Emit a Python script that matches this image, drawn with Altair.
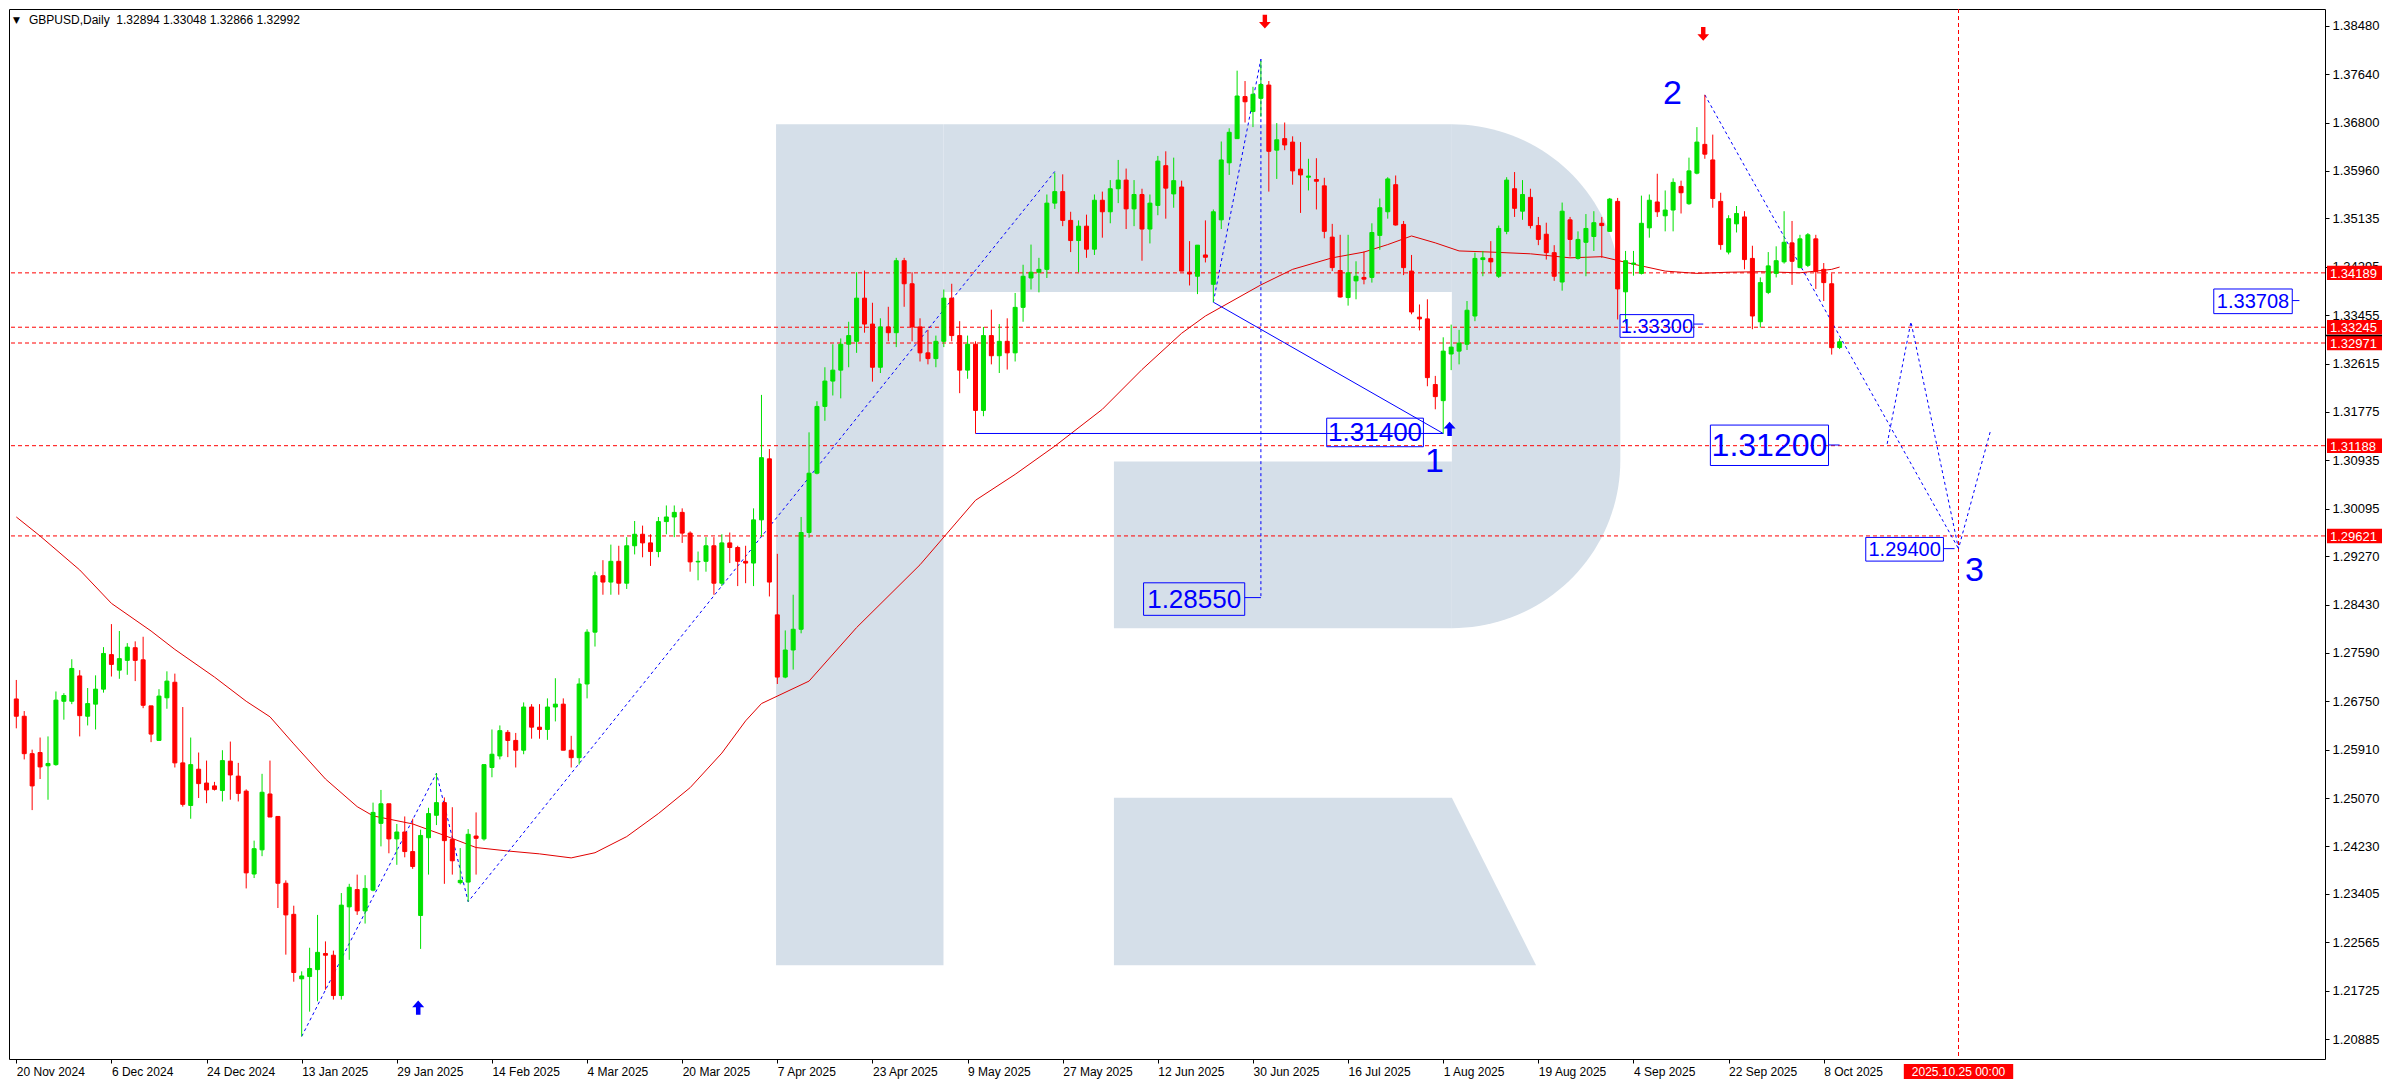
import altair as alt
import numpy as np
import pandas as pd

W, H = 2316, 1050
X_DOM = [-0.29, 290.6]
Y_DOM = [1.20538, 1.38771]
FONT = "Liberation Sans"
BLUE = "#0000ff"
RED = "#ff0000"
GREEN = "#00e000"
WM = "#d5dfe9"

# ---------------- candles (bar 0 = 20 Nov 2024, one bar per trading day) ----------------
opens = [
    1.2679, 1.2649, 1.2584, 1.2586, 1.2563, 1.2565, 1.2675, 1.2675, 1.2719, 1.2649,
    1.2670, 1.2696, 1.2756, 1.2729, 1.2746, 1.2768, 1.2747, 1.2667, 1.2607, 1.2681,
    1.2708, 1.2568, 1.2494, 1.2557, 1.2533, 1.2528, 1.2520, 1.2571, 1.2545, 1.2519,
    1.2375, 1.2417, 1.2514, 1.2475, 1.2359, 1.2305, 1.2193, 1.2197, 1.2209, 1.2237,
    1.2234, 1.2164, 1.2318, 1.2348, 1.2311, 1.2347, 1.2463, 1.2497, 1.2436, 1.2448,
    1.2414, 1.2303, 1.2438, 1.2477, 1.2499, 1.2435, 1.2360, 1.2361, 1.2441, 1.2436,
    1.2560, 1.2580, 1.2621, 1.2607, 1.2590, 1.2665, 1.2630, 1.2626, 1.2665, 1.2670,
    1.2590, 1.2577, 1.2705, 1.2795, 1.2893, 1.2882, 1.2918, 1.2880, 1.2945, 1.2965,
    1.2950, 1.2935, 1.2987, 1.2995, 1.3003, 1.2967, 1.2917, 1.2918, 1.2945, 1.2880,
    1.2950, 1.2942, 1.2918, 1.2915, 1.2990, 1.3096, 1.2825, 1.2717, 1.2764, 1.2800,
    1.2968, 1.3071, 1.3187, 1.3231, 1.3250, 1.3295, 1.3300, 1.3375, 1.3330, 1.3255,
    1.3325, 1.3315, 1.3440, 1.3400, 1.3325, 1.3280, 1.3270, 1.3300, 1.3375, 1.3310,
    1.3250, 1.3295, 1.3180, 1.3310, 1.3275, 1.3300, 1.3280, 1.3359, 1.3410, 1.3420,
    1.3425, 1.3540, 1.3560, 1.3510, 1.3475, 1.3500, 1.3460, 1.3545, 1.3525, 1.3565,
    1.3580, 1.3530, 1.3555, 1.3495, 1.3536, 1.3605, 1.3556, 1.3568, 1.3420, 1.3413,
    1.3450, 1.3399, 1.3511, 1.3610, 1.3652, 1.3725, 1.3699, 1.3722, 1.3745, 1.3632,
    1.3652, 1.3646, 1.3599, 1.3585, 1.3581, 1.3570, 1.3481, 1.3423, 1.3376, 1.3405,
    1.3411, 1.3411, 1.3484, 1.3525, 1.3572, 1.3503, 1.3422, 1.3342, 1.3339, 1.3225,
    1.3197, 1.3278, 1.3283, 1.3295, 1.3344, 1.3442, 1.3444, 1.3413, 1.3491, 1.3565,
    1.3526, 1.3550, 1.3501, 1.3486, 1.3454, 1.3403, 1.3511, 1.3444, 1.3472, 1.3482,
    1.3505, 1.3491, 1.3543, 1.3386, 1.3434, 1.3418, 1.3497, 1.3542, 1.3518, 1.3528,
    1.3569, 1.3539, 1.3592, 1.3642, 1.3615, 1.3543, 1.3455, 1.3504, 1.3516, 1.3444,
    1.3334, 1.3385, 1.3418, 1.3438, 1.3471, 1.3428, 1.3432, 1.3478, 1.3425, 1.3400,
    1.32894,
]
highs = [
    1.2712, 1.2658, 1.2591, 1.2612, 1.2614, 1.2692, 1.2689, 1.2748, 1.2729, 1.2698,
    1.2720, 1.2769, 1.2809, 1.2797, 1.2776, 1.2779, 1.2787, 1.2667, 1.2696, 1.2727,
    1.2723, 1.2665, 1.2612, 1.2586, 1.2572, 1.2535, 1.2590, 1.2605, 1.2568, 1.2522,
    1.2433, 1.2549, 1.2572, 1.2475, 1.2364, 1.2320, 1.2206, 1.2247, 1.2304, 1.2258,
    1.2242, 1.2342, 1.2358, 1.2374, 1.2373, 1.2499, 1.2521, 1.2497, 1.2462, 1.2475,
    1.2471, 1.2452, 1.2490, 1.2550, 1.2508, 1.2491, 1.2420, 1.2453, 1.2482, 1.2565,
    1.2626, 1.2633, 1.2625, 1.2620, 1.2673, 1.2670, 1.2670, 1.2680, 1.2715, 1.2680,
    1.2615, 1.2715, 1.2800, 1.2900, 1.2920, 1.2947, 1.2945, 1.2960, 1.2988, 1.2980,
    1.2965, 1.2995, 1.3015, 1.3015, 1.3010, 1.2970, 1.2935, 1.2960, 1.2960, 1.2965,
    1.2968, 1.2945, 1.2945, 1.3010, 1.3207, 1.3113, 1.2931, 1.2798, 1.2860, 1.2995,
    1.3142, 1.3196, 1.3255, 1.3295, 1.3305, 1.3334, 1.3420, 1.3423, 1.3367, 1.3340,
    1.3360, 1.3445, 1.3445, 1.3420, 1.3340, 1.3320, 1.3310, 1.3390, 1.3400, 1.3335,
    1.3310, 1.3300, 1.3325, 1.3355, 1.3330, 1.3340, 1.3384, 1.3433, 1.3468, 1.3445,
    1.3555, 1.3593, 1.3590, 1.3525, 1.3510, 1.3520, 1.3555, 1.3560, 1.3580, 1.3615,
    1.3600, 1.3580, 1.3565, 1.3555, 1.3622, 1.3630, 1.3619, 1.3579, 1.3474, 1.3467,
    1.3510, 1.3529, 1.3647, 1.3670, 1.3770, 1.3752, 1.3742, 1.3787, 1.3752, 1.3679,
    1.3680, 1.3656, 1.3646, 1.3617, 1.3618, 1.3584, 1.3504, 1.3485, 1.3485, 1.3439,
    1.3456, 1.3505, 1.3548, 1.3585, 1.3588, 1.3509, 1.3450, 1.3364, 1.3373, 1.3240,
    1.3307, 1.3329, 1.3320, 1.3370, 1.3454, 1.3457, 1.3474, 1.3501, 1.3585, 1.3594,
    1.3580, 1.3565, 1.3516, 1.3506, 1.3467, 1.3541, 1.3516, 1.3491, 1.3521, 1.3526,
    1.3516, 1.3549, 1.3549, 1.3457, 1.3457, 1.3553, 1.3555, 1.3591, 1.3562, 1.3583,
    1.3579, 1.3619, 1.3672, 1.3728, 1.3659, 1.3558, 1.3519, 1.3535, 1.3526, 1.3466,
    1.3411, 1.3455, 1.3465, 1.3526, 1.3509, 1.3485, 1.3488, 1.3485, 1.3436, 1.3418,
    1.33048,
]
lows = [
    1.2628, 1.2574, 1.2486, 1.2540, 1.2504, 1.2563, 1.2643, 1.2670, 1.2614, 1.2633,
    1.2626, 1.2690, 1.2718, 1.2714, 1.2721, 1.2710, 1.2663, 1.2604, 1.2607, 1.2662,
    1.2560, 1.2492, 1.2471, 1.2507, 1.2498, 1.2520, 1.2501, 1.2504, 1.2501, 1.2350,
    1.2368, 1.2406, 1.2474, 1.2316, 1.2235, 1.2188, 1.2093, 1.2136, 1.2154, 1.2174,
    1.2157, 1.2157, 1.2226, 1.2304, 1.2289, 1.2345, 1.2423, 1.2411, 1.2391, 1.2404,
    1.2384, 1.2245, 1.2374, 1.2460, 1.2358, 1.2374, 1.2357, 1.2327, 1.2374, 1.2433,
    1.2543, 1.2574, 1.2578, 1.2560, 1.2583, 1.2610, 1.2610, 1.2608, 1.2640, 1.2590,
    1.2560, 1.2565, 1.2680, 1.2770, 1.2860, 1.2860, 1.2860, 1.2870, 1.2930, 1.2925,
    1.2910, 1.2925, 1.2965, 1.2960, 1.2950, 1.2900, 1.2885, 1.2900, 1.2860, 1.2875,
    1.2915, 1.2875, 1.2880, 1.2875, 1.2961, 1.2857, 1.2705, 1.2715, 1.2730, 1.2793,
    1.2959, 1.3069, 1.3162, 1.3206, 1.3201, 1.3255, 1.3280, 1.3315, 1.3230, 1.3245,
    1.3300, 1.3290, 1.3360, 1.3300, 1.3265, 1.3260, 1.3255, 1.3290, 1.3300, 1.3210,
    1.3235, 1.3140, 1.3170, 1.3260, 1.3245, 1.3251, 1.3265, 1.3334, 1.3390, 1.3385,
    1.3410, 1.3530, 1.3500, 1.3455, 1.3420, 1.3445, 1.3450, 1.3480, 1.3505, 1.3540,
    1.3495, 1.3500, 1.3440, 1.3470, 1.3519, 1.3513, 1.3532, 1.3422, 1.3397, 1.3382,
    1.3437, 1.3368, 1.3495, 1.3589, 1.3652, 1.3680, 1.3672, 1.3690, 1.3560, 1.3582,
    1.3632, 1.3572, 1.3523, 1.3562, 1.3529, 1.3479, 1.3422, 1.3376, 1.3362, 1.3373,
    1.3399, 1.3402, 1.3459, 1.3513, 1.3501, 1.3415, 1.3347, 1.3319, 1.3222, 1.3182,
    1.3140, 1.3250, 1.3260, 1.3285, 1.3335, 1.3413, 1.3418, 1.3410, 1.3486, 1.3516,
    1.3511, 1.3496, 1.3467, 1.3442, 1.3405, 1.3388, 1.3447, 1.3442, 1.3413, 1.3457,
    1.3445, 1.3490, 1.3338, 1.3331, 1.3414, 1.3416, 1.3480, 1.3516, 1.3491, 1.3491,
    1.3522, 1.3537, 1.3590, 1.3617, 1.3532, 1.3459, 1.3451, 1.3489, 1.3425, 1.3321,
    1.3324, 1.3382, 1.3411, 1.3435, 1.3398, 1.3427, 1.3429, 1.3391, 1.3370, 1.3277,
    1.32866,
]
closes = [
    1.2649, 1.2584, 1.2528, 1.2561, 1.2567, 1.2677, 1.2685, 1.2732, 1.2650, 1.2671,
    1.2696, 1.2758, 1.2739, 1.2749, 1.2769, 1.2746, 1.2668, 1.2618, 1.2684, 1.2710,
    1.2568, 1.2496, 1.2565, 1.2532, 1.2521, 1.2522, 1.2572, 1.2547, 1.2515, 1.2377,
    1.2419, 1.2517, 1.2474, 1.2359, 1.2304, 1.2204, 1.2198, 1.2211, 1.2239, 1.2234,
    1.2164, 1.2321, 1.2352, 1.2311, 1.2350, 1.2482, 1.2497, 1.2436, 1.2448, 1.2414,
    1.2388, 1.2442, 1.2480, 1.2499, 1.2433, 1.2398, 1.2364, 1.2444, 1.2437, 1.2565,
    1.2583, 1.2624, 1.2607, 1.2590, 1.2665, 1.2630, 1.2626, 1.2665, 1.2670, 1.2590,
    1.2577, 1.2705, 1.2795, 1.2893, 1.2882, 1.2918, 1.2880, 1.2945, 1.2965, 1.2950,
    1.2935, 1.2987, 1.2995, 1.3003, 1.2967, 1.2917, 1.2918, 1.2945, 1.2880, 1.2950,
    1.2942, 1.2918, 1.2915, 1.2990, 1.3098, 1.2882, 1.2717, 1.2764, 1.2800, 1.2968,
    1.3071, 1.3187, 1.3231, 1.3250, 1.3295, 1.3310, 1.3375, 1.3330, 1.3255, 1.3325,
    1.3315, 1.3440, 1.3400, 1.3325, 1.3280, 1.3270, 1.3300, 1.3375, 1.3310, 1.3250,
    1.3295, 1.3180, 1.3310, 1.3275, 1.3300, 1.3280, 1.3359, 1.3413, 1.3420, 1.3425,
    1.3540, 1.3560, 1.3510, 1.3475, 1.3500, 1.3460, 1.3545, 1.3525, 1.3565, 1.3580,
    1.3530, 1.3555, 1.3495, 1.3540, 1.3613, 1.3566, 1.3579, 1.3422, 1.3417, 1.3467,
    1.3446, 1.3525, 1.3615, 1.3663, 1.3726, 1.3716, 1.3729, 1.3746, 1.3630, 1.3650,
    1.3641, 1.3596, 1.3589, 1.3587, 1.3578, 1.3491, 1.3428, 1.3377, 1.3419, 1.3413,
    1.3408, 1.3489, 1.3532, 1.3582, 1.3502, 1.3428, 1.3351, 1.3339, 1.3237, 1.3204,
    1.3283, 1.3290, 1.3297, 1.3354, 1.3444, 1.3445, 1.3438, 1.3496, 1.3580, 1.3531,
    1.3555, 1.3501, 1.3477, 1.3454, 1.3413, 1.3526, 1.3477, 1.3477, 1.3496, 1.3506,
    1.3501, 1.3547, 1.3391, 1.3440, 1.3436, 1.3505, 1.3545, 1.3525, 1.3528, 1.3576,
    1.3558, 1.3596, 1.3646, 1.3625, 1.3548, 1.3468, 1.3513, 1.3522, 1.3442, 1.3344,
    1.3402, 1.3431, 1.3440, 1.3472, 1.3439, 1.3478, 1.3485, 1.3421, 1.3402, 1.3289,
    1.32992,
]

# ---------------- moving average (read at selected bars) ----------------
ma_bars = [0, 3, 8, 12, 17, 20, 25, 29, 32, 35, 39, 43, 45, 50, 54, 58, 62, 66, 70, 73,
           77, 81, 85, 89, 92, 94, 100, 106, 114, 121, 126, 131, 137, 142, 147, 150, 157, 161, 166, 170,
           173, 176, 179, 182, 186, 191, 196, 200, 204, 208, 212, 216, 220, 225, 229, 230]
ma_vals = [1.2995, 1.2962, 1.2903, 1.2845, 1.2797, 1.2765, 1.2717, 1.2675, 1.2648, 1.2601,
           1.2540, 1.2492, 1.2476, 1.2462, 1.2442, 1.2421, 1.2415, 1.2410, 1.2403, 1.2412,
           1.2440, 1.2480, 1.2525, 1.2585, 1.2641, 1.2671, 1.2710, 1.2803, 1.2912, 1.3024,
           1.3069, 1.3118, 1.3182, 1.3251, 1.3314, 1.3344, 1.3398, 1.3425, 1.3445, 1.3455,
           1.3468, 1.3483, 1.3471, 1.3457, 1.3455, 1.3452, 1.3445, 1.3447, 1.3434, 1.3422,
           1.3418, 1.3420, 1.3421, 1.3419, 1.3425, 1.3429]

# ---------------- axes ----------------
date_ticks = list(range(0, 229, 12))
date_labels = ["20 Nov 2024", "6 Dec 2024", "24 Dec 2024", "13 Jan 2025", "29 Jan 2025",
               "14 Feb 2025", "4 Mar 2025", "20 Mar 2025", "7 Apr 2025", "23 Apr 2025",
               "9 May 2025", "27 May 2025", "12 Jun 2025", "30 Jun 2025", "16 Jul 2025",
               "1 Aug 2025", "19 Aug 2025", "4 Sep 2025", "22 Sep 2025", "8 Oct 2025"]
price_ticks = [1.38480, 1.37640, 1.36800, 1.35960, 1.35135, 1.34295, 1.33455, 1.32615,
               1.31775, 1.30935, 1.30095, 1.29270, 1.28430, 1.27590, 1.26750, 1.25910,
               1.25070, 1.24230, 1.23405, 1.22565, 1.21725, 1.20885]

# ---------------- levels / annotations ----------------
levels = [1.34189, 1.33245, 1.32971, 1.31188, 1.29621]
level_labels = ["1.34189", "1.33245", "1.32971", "1.31188", "1.29621"]
bid_marker = 1.3310
future_bar = 245
future_label = "2025.10.25 00:00"

zig1_bars = [36, 53, 57, 131]
zig1_prices = [1.2093, 1.2550, 1.2327, 1.3595]
peak1_bars = [151, 157]
peak1_prices = [1.3368, 1.3790]
vert_bars = [157, 157]
vert_prices = [1.3790, 1.2855]
waveA_bars = [213, 245]
waveA_prices = [1.3728, 1.2940]
zig2_bars = [236, 239, 245, 249]
zig2_prices = [1.3122, 1.3334, 1.2940, 1.3143]
diag_bars = [151, 180]
diag_prices = [1.3368, 1.3140]
flat_bars = [121, 180]
flat_prices = [1.3140, 1.3140]

box_labels = ["1.28550", "1.31400", "1.33300", "1.31200", "1.29400", "1.33708"]
box_left = [142.2, 165.3, 202.3, 213.7, 233.3, 277.2]
box_right = [154.96, 177.5, 211.6, 228.6, 243.1, 287.1]
box_top = [1.28807, 1.31666, 1.33464, 1.31546, 1.29595, 1.33909]
box_bottom = [1.28242, 1.31170, 1.33070, 1.30844, 1.29184, 1.33481]
box_font = [26, 26, 20, 32, 20, 20]
conn_to = [157.0, 180.0, 212.8, 230.0, 244.5, 288.0]
conn_price = [1.2855, 1.3140, 1.3330, 1.3120, 1.2940, 1.33708]

wave_text = ["1", "2", "3"]
wave_bar = [178.9, 208.9, 247.0]
wave_price = [1.3090, 1.3730, 1.2901]

up_arrow_bar = [50.7, 180.8]
up_arrow_price = [1.2143, 1.3148]
down_arrow_bar = [157.5, 212.8]
down_arrow_price = [1.3855, 1.3834]

header = "GBPUSD,Daily\u00a0 1.32894 1.33048 1.32866 1.32992"

# watermark "R" (decoration, in chart units)
wm_rect_x0 = [95.84, 116.96, 138.46]
wm_rect_x1 = [116.96, 181.09, 181.09]
wm_rect_y0 = [1.36768, 1.36768, 1.30913]
wm_rect_y1 = [1.22165, 1.33858, 1.28019]
wm_leg_bars = [138.46, 181.09, 191.71]
wm_leg_top = [1.25075, 1.25075, 1.22165]
wm_leg_bot = [1.22165, 1.22165, 1.22165]

# ---------------- build ----------------
n = len(closes)
assert len(opens) == n and len(highs) == n and len(lows) == n, (len(opens), len(highs), len(lows), n)

candles = pd.DataFrame({"bar": np.arange(n), "open": opens, "high": highs,
                        "low": lows, "close": closes})
candles["dir"] = np.where(candles["close"] >= candles["open"], "up", "down")

xs = alt.Scale(domain=X_DOM, nice=False, zero=False)
ys = alt.Scale(domain=Y_DOM, nice=False, zero=False)

label_expr = "[" + ",".join("'%s'" % d for d in date_labels) + "][round(datum.value / 12)]"
x_axis = alt.Axis(values=date_ticks, labelExpr=label_expr, title=None, grid=False, domain=False,
                  labelAlign="left", labelBaseline="top", labelPadding=3, labelFont=FONT,
                  labelFontSize=12, labelColor="black", tickColor="black", tickSize=4,
                  labelOverlap=False, labelFlush=False)
y_axis = alt.Axis(values=price_ticks, format=".5f", title=None, grid=False, domain=False,
                  orient="right", labelFont=FONT, labelFontSize=13, labelColor="black",
                  tickColor="black", tickSize=4, labelPadding=3, labelOverlap=False,
                  labelFlush=False)


def X(f="bar"):
    return alt.X(f + ":Q", scale=xs, axis=x_axis)


def Y(f="price"):
    return alt.Y(f + ":Q", scale=ys, axis=y_axis)


dir_scale = alt.Scale(domain=["up", "down"], range=[GREEN, RED])

# watermark
wm_rects = pd.DataFrame({"x0": wm_rect_x0, "x1": wm_rect_x1, "y0": wm_rect_y0, "y1": wm_rect_y1})
theta = np.linspace(0, np.pi / 2, 40)
wm_round = pd.DataFrame({
    "bar": 181.09 + 21.25 * np.sin(theta),
    "top": 1.33858 + 0.029104 * np.cos(theta),
    "bot": 1.30930 - 0.029104 * np.cos(theta),
})
wm_leg = pd.DataFrame({"bar": wm_leg_bars, "top": wm_leg_top, "bot": wm_leg_bot})

layer_wm1 = alt.Chart(wm_rects).mark_rect(color=WM).encode(x=X("x0"), x2="x1", y=Y("y0"), y2="y1")
layer_wm2 = alt.Chart(wm_round).mark_area(color=WM).encode(x=X("bar"), y=Y("top"), y2="bot")
layer_wm3 = alt.Chart(wm_leg).mark_area(color=WM).encode(x=X("bar"), y=Y("top"), y2="bot")

# red levels
lv = pd.DataFrame({"price": levels})
layer_levels = alt.Chart(lv).mark_rule(color=RED, strokeDash=[4, 3], strokeWidth=1).encode(y=Y("price"))
layer_future = alt.Chart(pd.DataFrame({"bar": [future_bar]})).mark_rule(
    color=RED, strokeDash=[4, 3], strokeWidth=1).encode(x=X("bar"))

# moving average
ma_df = pd.DataFrame({"bar": ma_bars, "price": ma_vals})
layer_ma = alt.Chart(ma_df).mark_line(color="#e00000", strokeWidth=1).encode(x=X("bar"), y=Y("price"))


def poly(name, bars, prices):
    return pd.DataFrame({"bar": bars, "price": prices, "seg": name, "ord": np.arange(len(bars))})


dashed = pd.concat([poly("z1", zig1_bars, zig1_prices), poly("p1", peak1_bars, peak1_prices),
                    poly("v", vert_bars, vert_prices), poly("a", waveA_bars, waveA_prices),
                    poly("z2", zig2_bars, zig2_prices)])
solid_parts = [poly("d", diag_bars, diag_prices), poly("f", flat_bars, flat_prices)]
for i in range(len(box_labels)):
    solid_parts.append(poly("c%d" % i, [box_right[i], conn_to[i]], [conn_price[i], conn_price[i]]))
solid = pd.concat(solid_parts)

layer_dashed = alt.Chart(dashed).mark_line(color=BLUE, strokeWidth=1, strokeDash=[3, 3]).encode(
    x=X("bar"), y=Y("price"), detail="seg:N", order="ord:Q")
layer_solid = alt.Chart(solid).mark_line(color=BLUE, strokeWidth=1).encode(
    x=X("bar"), y=Y("price"), detail="seg:N", order="ord:Q")

# candles
layer_wick = alt.Chart(candles).mark_rule(strokeWidth=1).encode(
    x=X("bar"), y=Y("low"), y2="high", color=alt.Color("dir:N", scale=dir_scale, legend=None))
layer_body = alt.Chart(candles).mark_bar(size=4, strokeWidth=1, orient="vertical").encode(
    x=X("bar"), y=Y("open"), y2="close",
    color=alt.Color("dir:N", scale=dir_scale, legend=None),
    stroke=alt.Stroke("dir:N", scale=dir_scale, legend=None))

# label boxes
boxes = pd.DataFrame({"label": box_labels, "x0": box_left, "x1": box_right,
                      "y0": box_top, "y1": box_bottom, "fs": box_font})
boxes["xc"] = (boxes["x0"] + boxes["x1"]) / 2
boxes["yc"] = (boxes["y0"] + boxes["y1"]) / 2
layer_boxes = alt.Chart(boxes).mark_rect(filled=False, stroke=BLUE, strokeWidth=1).encode(
    x=X("x0"), x2="x1", y=Y("y0"), y2="y1")
layer_box_text = alt.Chart(boxes).mark_text(color=BLUE, font=FONT, align="center",
                                            baseline="middle", dy=1).encode(
    x=X("xc"), y=Y("yc"), text="label:N", size=alt.Size("fs:Q", scale=None, legend=None))

waves = pd.DataFrame({"t": wave_text, "bar": wave_bar, "price": wave_price})
layer_waves = alt.Chart(waves).mark_text(color=BLUE, font=FONT, fontSize=34, align="center",
                                         baseline="middle").encode(x=X("bar"), y=Y("price"), text="t:N")

UP = "M0,-1L0.85,-0.05L0.32,-0.05L0.32,1L-0.32,1L-0.32,-0.05L-0.85,-0.05Z"
DOWN = "M0,1L0.85,0.05L0.32,0.05L0.32,-1L-0.32,-1L-0.32,0.05L-0.85,0.05Z"
layer_up = alt.Chart(pd.DataFrame({"bar": up_arrow_bar, "price": up_arrow_price})).mark_point(
    shape=UP, filled=True, size=200, color=BLUE, opacity=1).encode(x=X("bar"), y=Y("price"))
layer_down = alt.Chart(pd.DataFrame({"bar": down_arrow_bar, "price": down_arrow_price})).mark_point(
    shape=DOWN, filled=True, size=190, color=RED, opacity=1).encode(x=X("bar"), y=Y("price"))

# header
one = pd.DataFrame({"a": [0]})
layer_tri = alt.Chart(one).mark_text(text="\u25bc", font="DejaVu Sans", fontSize=9, align="left",
                                     baseline="middle", color="black").encode(
    x=alt.value(4), y=alt.value(11))
layer_header = alt.Chart(one).mark_text(text=header, font=FONT, fontSize=12, align="left",
                                        baseline="middle", color="black").encode(
    x=alt.value(20), y=alt.value(11))

# axis-side red price labels
half = 7.2 * (Y_DOM[1] - Y_DOM[0]) / H
lvl = pd.DataFrame({"price": levels, "label": level_labels})
lvl["y0"] = lvl["price"] + half
lvl["y1"] = lvl["price"] - half
layer_lvl_box = alt.Chart(lvl).mark_rect(color=RED).encode(
    x=alt.value(W + 2), x2=alt.value(W + 57), y=Y("y0"), y2="y1")
layer_lvl_text = alt.Chart(lvl).mark_text(color="white", font=FONT, fontSize=13, align="left",
                                          baseline="middle", dy=1).encode(
    x=alt.value(W + 5), y=Y("price"), text="label:N")
layer_bid = alt.Chart(pd.DataFrame({"price": [bid_marker]})).mark_rule(color="black", strokeWidth=1.5).encode(
    x=alt.value(W), x2=alt.value(W + 57), y=Y("price"))

# future date label under the axis
fut = pd.DataFrame({"x0": [future_bar - 6.9], "x1": [future_bar + 6.9], "bar": [future_bar],
                    "t": [future_label]})
layer_fut_box = alt.Chart(fut).mark_rect(color=RED).encode(
    x=X("x0"), x2="x1", y=alt.value(H + 5), y2=alt.value(H + 20))
layer_fut_text = alt.Chart(fut).mark_text(color="white", font=FONT, fontSize=12, align="center",
                                          baseline="middle", dy=1).encode(
    x=X("bar"), y=alt.value(H + 12), text="t:N")

chart = alt.layer(
    layer_wm1, layer_wm2, layer_wm3,
    layer_levels, layer_future, layer_ma,
    layer_dashed, layer_solid,
    layer_wick, layer_body,
    layer_boxes, layer_box_text, layer_waves,
    layer_up, layer_down,
    layer_tri, layer_header,
    layer_lvl_box, layer_lvl_text, layer_bid,
    layer_fut_box, layer_fut_text,
).properties(width=W, height=H, padding=0, background="white").configure_view(
    stroke="black", strokeWidth=1)

chart.save("out.html", embed_options={"renderer": "svg", "actions": False})
